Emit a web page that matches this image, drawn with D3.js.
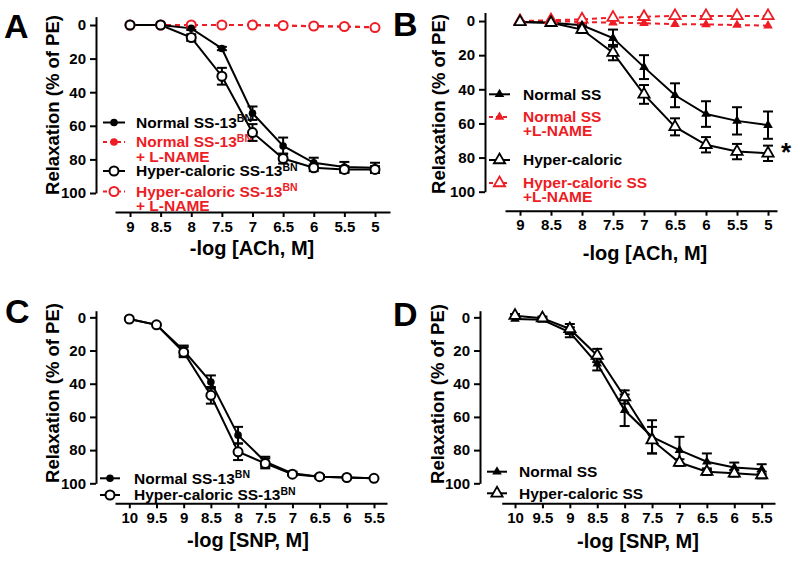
<!DOCTYPE html>
<html><head><meta charset="utf-8">
<script src="https://cdn.jsdelivr.net/npm/d3@7"></script>
<style>
body{margin:0;background:#fff;}
text{font-family:"Liberation Sans",Arial,Helvetica,sans-serif;font-weight:bold;}
</style></head>
<body><svg id="c" width="800" height="561"></svg>
<script>
// ---- data ----
const achDoses = [9, 8.5, 8, 7.5, 7, 6.5, 6, 5.5, 5];
const achTicks = [9, 8.5, 8, 7.5, 7, 6.5, 6, 5.5, 5];
const snpDoses = [10, 9.5, 9, 8.5, 8, 7.5, 7, 6.5, 6, 5.5];
const snpTicks = [10, 9.5, 9, 8.5, 8, 7.5, 7, 6.5, 6, 5.5];
const yTicks = [0, 20, 40, 60, 80, 100];

const aNormal = [0, 0, 2, 14, 52.5, 72, 82, 84.5, 85];
const aNormalErr = [0, 0, 1, 1, 4, 5, 3, 3, 3];
const aHyper = [0, 0, 7.5, 30.5, 64, 79.5, 85, 86, 86];
const aHyperErr = [0, 0, 2, 5, 5, 3, 2, 2, 2];
const aNormalLN = [0, 0, 0, 0, 0, 0.4, 0.8, 1, 1.2];
const aHyperLN = [0, 0, 0, 0, 0, 0.3, 0.6, 0.9, 1.5];

const bNormal = [0.5, 1, 2.5, 10, 27, 43.5, 54.5, 58.5, 61];
const bNormalErr = [0, 0, 1, 5, 7, 7, 7.5, 8, 8];
const bHyper = [0.5, 1, 5, 18.5, 43, 62, 72.5, 76.5, 77.5];
const bHyperErr = [0, 0, 2, 4.5, 5.5, 5, 4.5, 4.5, 4.5];
const bNormalLN = [0, 0, 0.5, 1, 1.3, 1.8, 2, 2.3, 2.7];
const bHyperLN = [0, -0.5, -1, -2, -2.5, -3, -3, -3, -3];

const cNormal = [1, 4.5, 20, 39, 71, 87, 94, 96, 96.5, 97];
const cNormalErr = [0, 0, 3, 4, 5, 3, 1, 1, 0, 0];
const cHyper = [1, 4.5, 21, 47, 81, 88, 94.5, 96, 96.5, 97];
const cHyperErr = [0, 0, 3, 5, 5, 3, 1, 1, 0, 0];

const dNormal = [1, 1.5, 9, 28, 56, 72, 80, 87, 90.5, 91.5];
const dNormalErr = [0, 1, 3, 4, 9.5, 10, 8, 5, 3, 3];
const dHyper = [-1, 0.5, 7, 23, 48, 74, 87.5, 93, 94, 95];
const dHyperErr = [1, 1, 3, 4, 4, 8, 2, 2, 2, 2];

const RED = "#ee1c24";
const svg = d3.select("#c");

function marker(g, type, color, cx, cy) {
  if (type === "openCircle") {
    g.append("circle").attr("cx", cx).attr("cy", cy).attr("r", 4.5)
      .attr("fill", "#fff").attr("stroke", color).attr("stroke-width", 2);
  } else if (type === "filledCircle") {
    g.append("circle").attr("cx", cx).attr("cy", cy).attr("r", 3.8)
      .attr("fill", color);
  } else if (type === "openTri") {
    g.append("path").attr("d", d3.symbol(d3.symbolTriangle, 55)())
      .attr("transform", `translate(${cx},${cy})`)
      .attr("fill", "#fff").attr("stroke", color).attr("stroke-width", 1.8);
  } else if (type === "filledTri") {
    g.append("path").attr("d", d3.symbol(d3.symbolTriangle, 40)())
      .attr("transform", `translate(${cx},${cy})`)
      .attr("fill", color);
  }
}

function panel(cfg) {
  const g = svg.append("g");
  const x = d3.scaleLinear().domain(cfg.xDomain).range(cfg.xRange);
  const y = d3.scaleLinear().domain([cfg.yTop, 100]).range(cfg.yRange);

  // y axis
  const ya = g.append("g").attr("transform", `translate(${cfg.yAxisX},0)`)
    .call(d3.axisLeft(y).tickValues(yTicks).tickSize(6).tickSizeOuter(0).tickPadding(4));
  ya.select(".domain").attr("stroke-width", 2);
  ya.selectAll(".tick line").attr("stroke-width", 2);
  ya.selectAll("text").attr("font-size", 15).attr("fill", "#000");

  // x axis
  const xa = g.append("g").attr("transform", `translate(0,${cfg.xAxisY})`)
    .call(d3.axisBottom(x).tickValues(cfg.ticks).tickSize(5).tickSizeOuter(0).tickPadding(4)
      .tickFormat(d3.format("")));
  xa.select(".domain").attr("stroke-width", 2);
  xa.selectAll(".tick line").attr("stroke-width", 2);
  xa.selectAll("text").attr("font-size", 15).attr("fill", "#000");

  // titles
  g.append("text").attr("x", cfg.xTitle[0]).attr("y", cfg.xTitle[1]).attr("dy", "0.35em")
    .attr("text-anchor", "middle").attr("font-size", 20).text(cfg.xLabel);
  g.append("text").attr("transform", `translate(${cfg.yTitle[0]},${cfg.yTitle[1]}) rotate(-90)`)
    .attr("dy", "0.35em").attr("text-anchor", "middle").attr("font-size", 18.5)
    .text("Relaxation (% of  PE)");
  g.append("text").attr("x", cfg.letter[0]).attr("y", cfg.letter[1])
    .attr("font-size", 34).attr("font-weight", 900)
    .text(cfg.letterText);

  const line = d3.line().x((d, i) => x(cfg.doses[i])).y(d => y(d));

  // lines
  cfg.series.forEach(s => {
    g.append("path").datum(s.values).attr("d", line).attr("fill", "none")
      .attr("stroke", s.color).attr("stroke-width", 2)
      .attr("stroke-dasharray", s.dashed ? "5,4" : null);
  });

  // legend (symbols, then a single text block)
  const lg = g.append("g");
  cfg.legend.forEach(L => {
    const s = cfg.series[L.idx];
    lg.append("line").attr("x1", cfg.legX[0]).attr("x2", cfg.legX[1]).attr("y1", L.y).attr("y2", L.y)
      .attr("stroke", s.color).attr("stroke-width", 2).attr("stroke-dasharray", s.dashed ? "4,3" : null);
    marker(lg, s.marker, s.color, (cfg.legX[0] + cfg.legX[1]) / 2, L.y);
  });
  const lt = lg.append("text").attr("font-size", 15.5);
  cfg.legend.forEach(L => {
    const s = cfg.series[L.idx];
    L.lines.forEach((ln, k) => {
      lt.append("tspan").attr("x", cfg.legTextX).attr("y", L.y + k * L.gap).attr("dy", "0.35em")
        .attr("fill", s.color).text(ln.main);
      if (ln.sup) lt.append("tspan").attr("dy", "-0.55em").attr("font-size", 10.5)
        .attr("fill", s.color).text(ln.sup);
    });
  });

  // error bars
  cfg.series.forEach(s => {
    if (!s.err) return;
    s.values.forEach((v, i) => {
      const e = s.err[i];
      if (!e) return;
      const cx = x(cfg.doses[i]);
      const eg = g.append("g").attr("stroke", s.color).attr("stroke-width", 2);
      eg.append("line").attr("x1", cx).attr("x2", cx).attr("y1", y(v - e)).attr("y2", y(v + e));
      [v - e, v + e].forEach(t => eg.append("line").attr("x1", cx - 5).attr("x2", cx + 5)
        .attr("y1", y(t)).attr("y2", y(t)));
    });
  });
  // markers
  cfg.series.forEach(s => {
    s.values.forEach((v, i) => marker(g, s.marker, s.color, x(cfg.doses[i]), y(v)));
  });
  return { g, x, y };
}

panel({
  letterText: "A", letter: [4, 38],
  doses: achDoses, ticks: achTicks,
  xDomain: [9.245, 4.755], xRange: [115, 390],
  yTop: -5, yRange: [16.6, 193], yAxisX: 96, xAxisY: 212,
  xLabel: "-log [ACh, M]", xTitle: [252, 248], yTitle: [53, 105],
  series: [
    { values: aNormalLN, color: RED, dashed: true, marker: "filledCircle" },
    { values: aHyperLN, color: RED, dashed: true, marker: "openCircle" },
    { values: aNormal, err: aNormalErr, color: "#000", marker: "filledCircle" },
    { values: aHyper, err: aHyperErr, color: "#000", marker: "openCircle" }
  ],
  legX: [103, 125], legTextX: 136,
  legend: [
    { idx: 2, y: 122.5, gap: 0, lines: [{ main: "Normal SS-13", sup: "BN" }] },
    { idx: 0, y: 142, gap: 14.5, lines: [{ main: "Normal SS-13", sup: "BN" }, { main: "+ L-NAME" }] },
    { idx: 3, y: 171, gap: 0, lines: [{ main: "Hyper-caloric SS-13", sup: "BN" }] },
    { idx: 1, y: 191.5, gap: 14.5, lines: [{ main: "Hyper-caloric SS-13", sup: "BN" }, { main: "+ L-NAME" }] }
  ]
});

const pB = panel({
  letterText: "B", letter: [393, 36],
  doses: achDoses, ticks: achTicks,
  xDomain: [9.242, 4.855], xRange: [505, 777],
  yTop: -5, yRange: [12.5, 191.7], yAxisX: 485, xAxisY: 210.7,
  xLabel: "-log [ACh, M]", xTitle: [645, 253], yTitle: [439, 104],
  series: [
    { values: bNormalLN, color: RED, dashed: true, marker: "filledTri" },
    { values: bHyperLN, color: RED, dashed: true, marker: "openTri" },
    { values: bNormal, err: bNormalErr, color: "#000", marker: "filledTri" },
    { values: bHyper, err: bHyperErr, color: "#000", marker: "openTri" }
  ],
  legX: [489, 510], legTextX: 523,
  legend: [
    { idx: 2, y: 94.3, gap: 0, lines: [{ main: "Normal SS" }] },
    { idx: 0, y: 117, gap: 14, lines: [{ main: "Normal SS" }, { main: "+L-NAME" }] },
    { idx: 3, y: 160, gap: 0, lines: [{ main: "Hyper-caloric" }] },
    { idx: 1, y: 183, gap: 14, lines: [{ main: "Hyper-caloric SS" }, { main: "+L-NAME" }] }
  ]
});
pB.g.append("text").attr("x", 786).attr("y", 161).attr("text-anchor", "middle")
  .attr("font-size", 26).text("*");

panel({
  letterText: "C", letter: [5, 323],
  doses: snpDoses, ticks: snpTicks,
  xDomain: [10.263, 5.261], xRange: [115, 387],
  yTop: -4, yRange: [310.7, 483.3], yAxisX: 96, xAxisY: 503.3,
  xLabel: "-log [SNP, M]", xTitle: [248, 540], yTitle: [53, 393],
  series: [
    { values: cNormal, err: cNormalErr, color: "#000", marker: "filledCircle" },
    { values: cHyper, err: cHyperErr, color: "#000", marker: "openCircle" }
  ],
  legX: [100, 120], legTextX: 134,
  legend: [
    { idx: 0, y: 478.3, gap: 0, lines: [{ main: "Normal SS-13", sup: "BN" }] },
    { idx: 1, y: 495, gap: 0, lines: [{ main: "Hyper-caloric SS-13", sup: "BN" }] }
  ]
});

panel({
  letterText: "D", letter: [393, 326],
  doses: snpDoses, ticks: snpTicks,
  xDomain: [10.243, 5.257], xRange: [501.7, 775],
  yTop: -4, yRange: [310.7, 483.3], yAxisX: 480, xAxisY: 503.3,
  xLabel: "-log [SNP, M]", xTitle: [638, 540.7], yTitle: [438, 394],
  series: [
    { values: dNormal, err: dNormalErr, color: "#000", marker: "filledTri" },
    { values: dHyper, err: dHyperErr, color: "#000", marker: "openTri" }
  ],
  legX: [487, 507], legTextX: 519,
  legend: [
    { idx: 0, y: 471.7, gap: 0, lines: [{ main: "Normal SS" }] },
    { idx: 1, y: 493.3, gap: 0, lines: [{ main: "Hyper-caloric SS" }] }
  ]
});
</script></body></html>
